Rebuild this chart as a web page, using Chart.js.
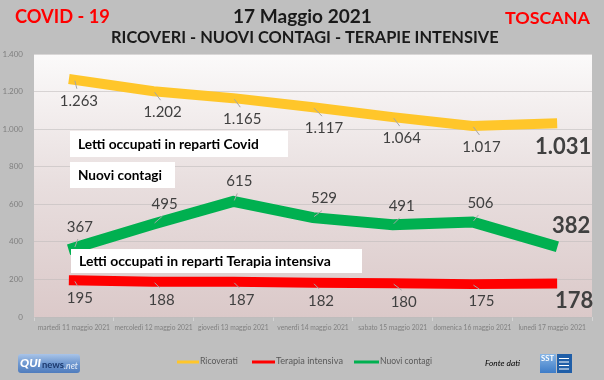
<!DOCTYPE html>
<html><head><meta charset="utf-8">
<script src="https://cdn.jsdelivr.net/npm/chart.js@4.4.1/dist/chart.umd.min.js"></script>
<style>html,body{margin:0;padding:0;background:#bfbfbf;}#c{display:block;}</style>
</head><body>
<canvas id="c" width="604" height="380"></canvas>
<script>
// ---- DATA ----
const categories = ["martedì 11 maggio 2021","mercoledì 12 maggio 2021","giovedì 13 maggio 2021","venerdì 14 maggio 2021","sabato 15 maggio 2021","domenica 16 maggio 2021","lunedì 17 maggio 2021"];
const ricoverati = [1263,1202,1165,1117,1064,1017,1031];
const terapiaIntensiva = [195,188,187,182,180,175,178];
const nuoviContagi = [367,495,615,529,491,506,382];
const yTicks = [0,200,400,600,800,1000,1200,1400];
const seriesNames = ["Ricoverati","Terapia intensiva","Nuovi contagi"];

// ---- STYLE ----
const FONT = "Lato";
const colors = {ric:"#ffc62a", ter:"#ff0000", nuo:"#00b050"};
const labelStyle = [
  {dx:[5,9,9,11,9,9,11], dy:[21,21,21,21,21,21,24]},   // ricoverati
  {dx:[6,8,8,8,11,9,22], dy:[18,18,18,18,19,17,17]},    // terapia
  {dx:[6,11,6,11,9,8,19], dy:[-21,-20,-20,-19,-19,-19,-19]} // nuovi
];
function fmt(v){ return v.toLocaleString('de-DE'); }

function fitText(ctx, text, x, y, w, weight, style, color, align){
  ctx.save();
  ctx.font = `${style||''} ${weight} 100px ${FONT}`;
  const m = ctx.measureText(text).width;
  const size = 100*w/m;
  ctx.font = `${style||''} ${weight} ${size}px ${FONT}`;
  ctx.fillStyle = color; ctx.textAlign = align||'left'; ctx.textBaseline='middle';
  ctx.fillText(text, x, y);
  ctx.restore();
}

const bgPlugin = {
  id:'bg',
  beforeDraw(chart){
    const {ctx, chartArea:a} = chart;
    ctx.save();
    ctx.fillStyle = '#bfbfbf';
    ctx.fillRect(0,0,chart.width,chart.height);
    const g = ctx.createLinearGradient(0,a.top,0,a.bottom);
    g.addColorStop(0,'#fbfafa');
    g.addColorStop(0.5,'#e8dede');
    g.addColorStop(1,'#dbc9c9');
    ctx.fillStyle = g;
    ctx.fillRect(a.left,a.top,a.right-a.left,a.bottom-a.top);
    ctx.restore();
  }
};

const overlayPlugin = {
  id:'overlay',
  afterDatasetsDraw(chart){
    const ctx = chart.ctx;
    // data labels
    chart.data.datasets.forEach((ds, di)=>{
      const meta = chart.getDatasetMeta(di);
      const st = labelStyle[di];
      meta.data.forEach((pt, i)=>{
        const last = i === meta.data.length-1;
        const dx = st.dx[i], dy = st.dy[i];
        const lx = pt.x+dx, ly = pt.y+dy;
        if(!last){
          ctx.save();
          ctx.strokeStyle = '#a6a6a6'; ctx.lineWidth = 1;
          ctx.beginPath();
          const sgn = dy>0?1:-1;
          ctx.moveTo(pt.x+1, pt.y+sgn*1);
          ctx.lineTo(pt.x+dx-2, ly - sgn*12);
          ctx.stroke();
          ctx.restore();
        }
        ctx.save();
        ctx.fillStyle = '#404040';
        ctx.font = last ? `bold 22px ${FONT}` : `15px ${FONT}`;
        ctx.textAlign='center'; ctx.textBaseline='middle';
        ctx.fillText(fmt(ds.data[i]), lx, ly);
        ctx.restore();
      });
    });
    // text boxes
    const boxes = [
      {x:70,y:131,w:218,h:26,t:"Letti occupati in reparti Covid",tw:181},
      {x:70,y:162,w:105,h:26,t:"Nuovi contagi",tw:84},
      {x:71,y:249,w:291,h:24,t:"Letti occupati in reparti Terapia intensiva",tw:252}
    ];
    boxes.forEach(b=>{
      ctx.save();
      ctx.fillStyle='#ffffff';
      ctx.fillRect(b.x,b.y,b.w,b.h);
      ctx.restore();
      fitText(ctx,b.t,b.x+8,b.y+b.h/2+0.5,b.tw,'bold','', '#000000','left');
    });
  },
  afterDraw(chart){
    const ctx = chart.ctx;
    // titles
    fitText(ctx,"COVID - 19",15,17,95,'bold','','#ff0000','left');
    fitText(ctx,"17 Maggio 2021",233,17,139,'bold','','#1a1a1a','left');
    fitText(ctx,"RICOVERI - NUOVI CONTAGI - TERAPIE INTENSIVE",111,38,388,'bold','','#1a1a1a','left');
    fitText(ctx,"TOSCANA",505,18,85,'bold','','#ff0000','left');
    // legend
    const leg = [
      {x1:177,x2:199,tx:200,tw:38,c:colors.ric,t:seriesNames[0]},
      {x1:252,x2:275,tx:276,tw:67,c:colors.ter,t:seriesNames[1]},
      {x1:354,x2:379,tx:380,tw:52,c:colors.nuo,t:seriesNames[2]}
    ];
    leg.forEach(l=>{
      ctx.save();
      ctx.strokeStyle=l.c; ctx.lineWidth=3;
      ctx.beginPath(); ctx.moveTo(l.x1,362); ctx.lineTo(l.x2,362); ctx.stroke();
      ctx.restore();
      fitText(ctx,l.t,l.tx,361,l.tw,'normal','','#595959','left');
    });
    fitText(ctx,"Fonte dati",485,363,35,'normal','italic','#000000','left');
    // QUInews logo
    ctx.save();
    const g = ctx.createLinearGradient(0,354,0,373);
    g.addColorStop(0,'#a9c4e8'); g.addColorStop(0.5,'#6f98d0'); g.addColorStop(1,'#4f7cbd');
    ctx.fillStyle=g;
    ctx.beginPath(); ctx.roundRect(18,354,62,19,3); ctx.fill();
    ctx.restore();
    fitText(ctx,"QUI",20,363.5,21,'900','italic','#ffffff','left');
    fitText(ctx,"news",42,365,22,'bold','','#1d3a6e','left');
    fitText(ctx,".net",64,366,14,'normal','italic','#e8eef8','left');
    // SST logo
    ctx.save();
    const g2 = ctx.createLinearGradient(0,352,0,373);
    g2.addColorStop(0,'#8fbbe8'); g2.addColorStop(1,'#3d7cc8');
    ctx.fillStyle=g2; ctx.fillRect(540,354,16,19);
    ctx.fillStyle='#1f5ea8'; ctx.fillRect(557,354,15,19);
    ctx.fillStyle='#ffffff';
    for(let k=0;k<4;k++){ ctx.fillRect(559,358+k*3.5,10,1); }
    ctx.restore();
    fitText(ctx,"SST",541,358.5,13,'bold','','#ffffff','left');
  }
};

const ctx = document.getElementById('c').getContext('2d');
new Chart(ctx,{
  type:'line',
  data:{
    labels:categories,
    datasets:[
      {label:seriesNames[0],data:ricoverati,borderColor:colors.ric,backgroundColor:colors.ric,borderWidth:10,pointRadius:0,tension:0,borderCapStyle:'square'},
      {label:seriesNames[1],data:terapiaIntensiva,borderColor:colors.ter,backgroundColor:colors.ter,borderWidth:10,pointRadius:0,tension:0,borderCapStyle:'square'},
      {label:seriesNames[2],data:nuoviContagi,borderColor:colors.nuo,backgroundColor:colors.nuo,borderWidth:11,pointRadius:0,tension:0,borderCapStyle:'square'}
    ]
  },
  options:{
    responsive:false,
    animation:false,
    devicePixelRatio:1,
    layout:{padding:{top:54,right:12,bottom:0,left:0}},
    plugins:{legend:{display:false},tooltip:{enabled:false},title:{display:false}},
    scales:{
      x:{
        offset:true,
        grid:{offset:true,drawOnChartArea:false,drawTicks:true,tickLength:4,color:'#d4d4d4'},
        border:{display:false},
        ticks:{autoSkip:false,maxRotation:0,minRotation:0,padding:3,color:'#808080',font:{family:FONT,size:6.7}},
        afterFit(s){ s.height = 63; }
      },
      y:{
        min:0,max:1400,
        afterBuildTicks(s){ s.ticks = yTicks.map(v=>({value:v})); },
        grid:{drawTicks:false,color:'rgba(190,185,185,0.55)',lineWidth:1},
        border:{display:false},
        ticks:{padding:11,color:'#7f7f7f',font:{family:FONT,size:8},callback:(v)=>fmt(v)},
        afterFit(s){ s.width = 34; }
      }
    }
  },
  plugins:[bgPlugin,overlayPlugin]
});
</script>
</body></html>
